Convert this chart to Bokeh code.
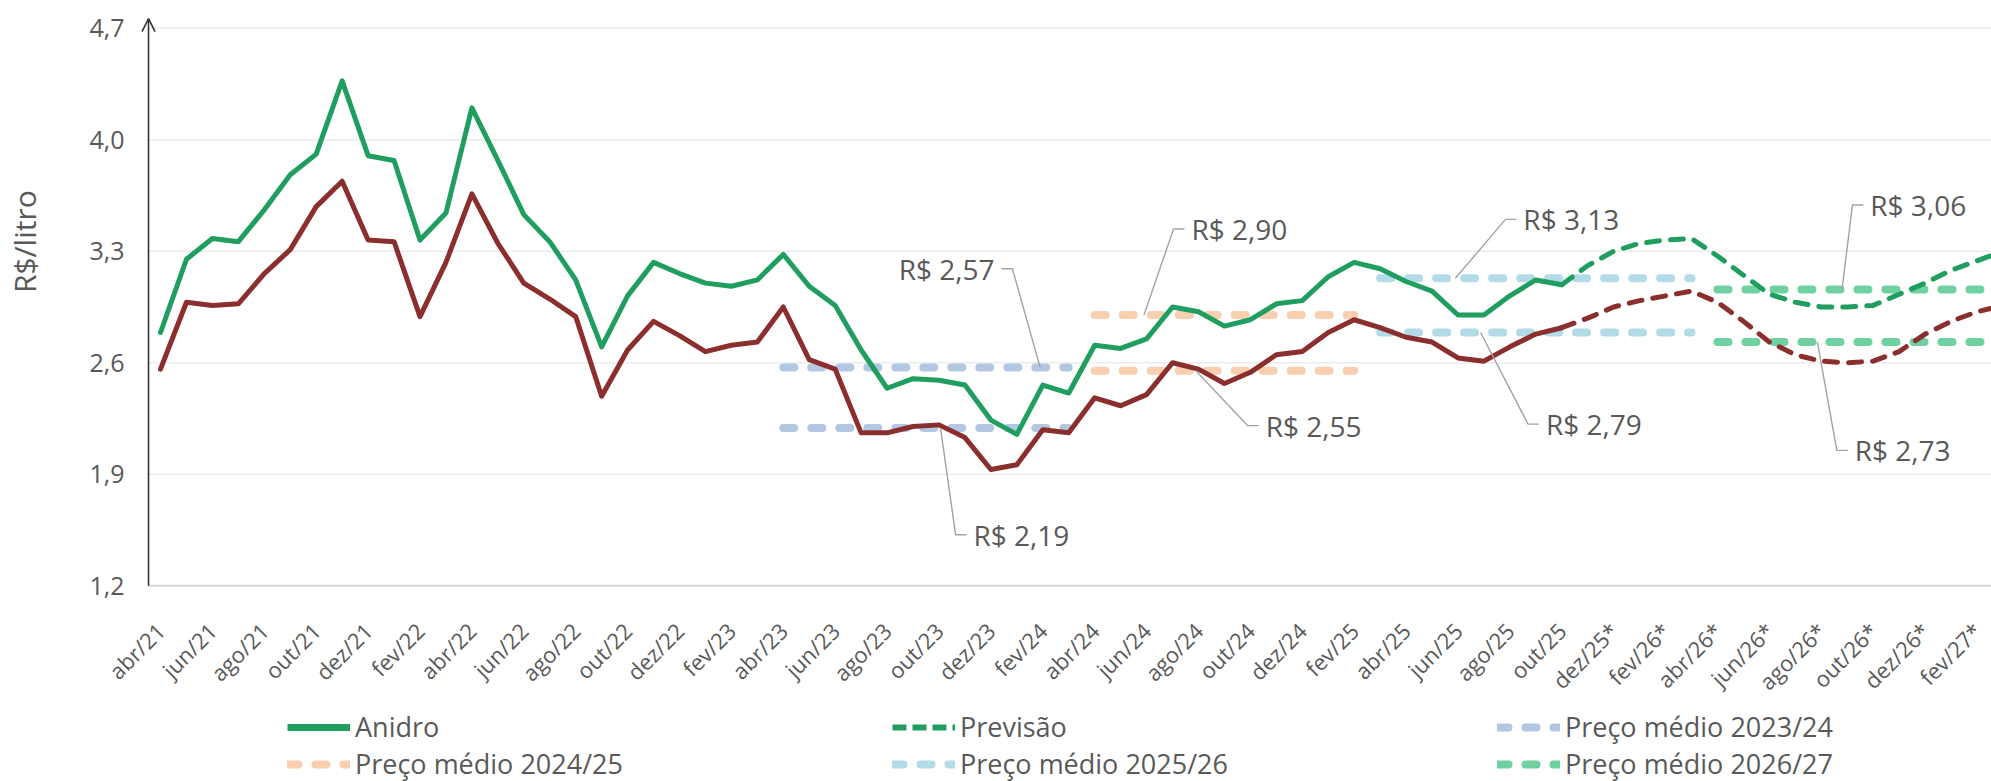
import math
from bokeh.plotting import figure
from bokeh.layouts import column
from bokeh.models import (FixedTicker, Range1d, Legend, LegendItem, Arrow, OpenHead,
                          ColumnDataSource)
from bokeh.core.properties import value
from bokeh.embed import file_html
from bokeh.resources import INLINE

# ---------------- data ----------------
mes = ["jan", "fev", "mar", "abr", "mai", "jun", "jul", "ago", "set", "out", "nov", "dez"]
months = [f"{mes[(3 + k) % 12]}/{21 + (3 + k) // 12}" for k in range(72)]  # abr/21 .. mar/27

tick_labels = ["abr/21", "jun/21", "ago/21", "out/21", "dez/21", "fev/22", "abr/22", "jun/22",
               "ago/22", "out/22", "dez/22", "fev/23", "abr/23", "jun/23", "ago/23", "out/23",
               "dez/23", "fev/24", "abr/24", "jun/24", "ago/24", "out/24", "dez/24", "fev/25",
               "abr/25", "jun/25", "ago/25", "out/25", "dez/25*", "fev/26*", "abr/26*", "jun/26*",
               "ago/26*", "out/26*", "dez/26*", "fev/27*"]

y_ticks = [1.2, 1.9, 2.6, 3.3, 4.0, 4.7]
y_tick_labels = ["1,2", "1,9", "2,6", "3,3", "4,0", "4,7"]
y_title = "R$/litro"

# Anidro (abr/21 .. out/25)
anidro = [2.79, 3.25, 3.38, 3.36, 3.56, 3.78, 3.91, 4.37, 3.90, 3.87, 3.37, 3.54, 4.20, 3.87,
          3.53, 3.36, 3.12, 2.70, 3.02, 3.23, 3.16, 3.10, 3.08, 3.12, 3.28, 3.08, 2.96, 2.68,
          2.44, 2.50, 2.49, 2.46, 2.24, 2.15, 2.46, 2.41, 2.71, 2.69, 2.75, 2.95, 2.92, 2.83,
          2.87, 2.97, 2.99, 3.14, 3.23, 3.19, 3.11, 3.05, 2.90, 2.90, 3.02, 3.12, 3.09]
# Previsão anidro (out/25 .. mar/27)
anidro_prev = [3.09, 3.21, 3.30, 3.35, 3.37, 3.38, 3.27, 3.15, 3.03, 2.98, 2.95, 2.95, 2.96,
               3.03, 3.10, 3.18, 3.24, 3.30]
# Hidratado (abr/21 .. out/25)
hidratado = [2.56, 2.98, 2.96, 2.97, 3.16, 3.31, 3.58, 3.74, 3.37, 3.36, 2.89, 3.23, 3.66, 3.35,
             3.10, 3.00, 2.89, 2.39, 2.68, 2.86, 2.77, 2.67, 2.71, 2.73, 2.95, 2.62, 2.56, 2.16,
             2.16, 2.20, 2.21, 2.13, 1.93, 1.96, 2.18, 2.16, 2.38, 2.33, 2.40, 2.60, 2.56, 2.47,
             2.54, 2.65, 2.67, 2.79, 2.87, 2.82, 2.76, 2.73, 2.63, 2.61, 2.70, 2.78, 2.82]
hidratado_prev = [2.82, 2.88, 2.95, 2.99, 3.02, 3.05, 2.98, 2.86, 2.73, 2.65, 2.61, 2.60, 2.61,
                  2.67, 2.78, 2.86, 2.92, 2.96]
prev_start = "out/25"

avg_labels = ["Preço médio 2023/24", "Preço médio 2024/25", "Preço médio 2025/26",
              "Preço médio 2026/27"]
avg_start = ["abr/23", "abr/24", "mar/25", "abr/26"]
avg_end = ["mar/24", "fev/25", "mar/26", "mar/27"]
avg_anidro = [2.57, 2.90, 3.13, 3.06]
avg_hidratado = [2.19, 2.55, 2.79, 2.73]
avg_colors = ["#b4c7e2", "#f9cfaf", "#b2dbe7", "#6fd0a0"]

# annotations: text, anchor on avg line (month idx, value), elbow (month idx, value), side
ann_text = ["R$ 2,57", "R$ 2,19", "R$ 2,90", "R$ 2,55", "R$ 3,13", "R$ 2,79", "R$ 3,06", "R$ 2,73"]
ann_anchor_m = [33.9, 30.06, 37.9, 39.9, 49.9, 50.87, 64.8, 63.85]
ann_anchor_v = [2.57, 2.19, 2.90, 2.55, 3.13, 2.79, 3.06, 2.73]
ann_elbow_m = [32.83, 30.64, 39.04, 41.9, 51.83, 52.7, 65.2, 64.6]
ann_elbow_v = [3.19, 1.52, 3.44, 2.205, 3.50, 2.215, 3.59, 2.05]
ann_side = ["left", "right", "right", "right", "right", "right", "right", "right"]

GREEN = "#1f9e60"
BROWN = "#8b2e2e"
TXT = "#595959"
FONT = "Open Sans"
AVG_DASH = "11 17"
PREV_DASH = "13 11"

# ---------------- main figure ----------------
x0, x1 = -6.166, 70.56      # plotting area (frame spans the whole figure width)
x_axis_pos = -0.462         # where the vertical axis sits
x_title_pos = -5.24         # where the vertical axis title sits
y0, y1 = 1.12, 4.78
p = figure(width=1991, height=709, output_backend="svg", toolbar_location=None,
           x_range=Range1d(x0, x1), y_range=Range1d(y0, y1), y_axis_location=None,
           min_border_left=0, min_border_right=0, min_border_top=15, min_border_bottom=108)
p.outline_line_color = None
p.background_fill_color = "white"

p.xaxis.ticker = FixedTicker(ticks=[months.index(t.rstrip("*")) for t in tick_labels])
p.xaxis.major_label_overrides = {months.index(t.rstrip("*")): t for t in tick_labels}
p.xaxis.major_label_orientation = 0.785398
p.xaxis.major_label_text_font = FONT
p.xaxis.major_label_text_font_size = "22px"
p.xaxis.major_label_text_color = TXT
p.xaxis.major_label_standoff = 22
p.xaxis.axis_line_color = None
p.xaxis.major_tick_line_color = None
p.xaxis.minor_tick_line_color = None

p.xgrid.grid_line_color = None
p.ygrid.grid_line_color = None

# horizontal grid lines (from the axis to the right) and the base line
n = len(y_ticks) - 1
p.segment(x0=[x_axis_pos] * n, y0=y_ticks[1:], x1=[x1] * n, y1=y_ticks[1:],
          line_color="#ececec", line_width=1.5)
p.segment(x0=[x_axis_pos], y0=[y_ticks[0]], x1=[x1], y1=[y_ticks[0]],
          line_color="#d6d6d6", line_width=2)

# vertical axis with arrow head, tick labels and title
p.add_layout(Arrow(end=OpenHead(size=13, line_color="#333333", line_width=1.6),
                   x_start=x_axis_pos, y_start=y_ticks[0], x_end=x_axis_pos, y_end=4.76,
                   line_color="#333333", line_width=1.6))
p.text(x=[x_axis_pos] * len(y_ticks), y=y_ticks, text=y_tick_labels, x_offset=-24,
       text_align="right", text_baseline="middle", text_font=value(FONT),
       text_font_size=value("25px"), text_color=TXT)
p.text(x=[x_title_pos], y=[3.36], text=[y_title], angle=math.pi / 2,
       text_align="center", text_baseline="middle", text_font=value(FONT),
       text_font_size=value("30px"), text_color=TXT)

# average price lines
for s, e, va, vh, c in zip(avg_start, avg_end, avg_anidro, avg_hidratado, avg_colors):
    si, ei = months.index(s), months.index(e)
    p.segment(x0=[si, si], y0=[va, vh], x1=[ei, ei], y1=[va, vh],
              line_color=c, line_width=8, line_dash=AVG_DASH, line_cap="round")

# series
xa = list(range(len(anidro)))
ps = months.index(prev_start)
xp = list(range(ps, ps + len(anidro_prev)))

p.line(xa, anidro, line_color=GREEN, line_width=5, line_join="round", line_cap="round")
p.line(xa, hidratado, line_color=BROWN, line_width=5, line_join="round", line_cap="round")
p.line(xp, anidro_prev, line_color=GREEN, line_width=5, line_dash=PREV_DASH,
       line_join="round", line_cap="round")
p.line(xp, hidratado_prev, line_color=BROWN, line_width=5, line_dash=PREV_DASH,
       line_join="round", line_cap="round")

# annotations
tick = 0.42
tick_m = [em - tick if sd == "left" else em + tick for em, sd in zip(ann_elbow_m, ann_side)]
lead_xs = [[am, em, tm] for am, em, tm in zip(ann_anchor_m, ann_elbow_m, tick_m)]
lead_ys = [[av, ev, ev] for av, ev in zip(ann_anchor_v, ann_elbow_v)]
p.multi_line(lead_xs, lead_ys, line_color="#a3a3a3", line_width=1.4)

ann_src = ColumnDataSource(dict(
    x=tick_m, y=ann_elbow_v, text=ann_text,
    align=["right" if sd == "left" else "left" for sd in ann_side],
    xoff=[-7 if sd == "left" else 7 for sd in ann_side]))
p.text(x="x", y="y", text="text", source=ann_src, text_align="align", x_offset="xoff",
       text_baseline="middle", text_font=value(FONT), text_font_size=value("28px"),
       text_color=TXT)

# ---------------- legend strip ----------------
lg = figure(width=1991, height=72, output_backend="svg", toolbar_location=None,
            x_range=Range1d(0, 1), y_range=Range1d(0, 1), x_axis_type=None, y_axis_type=None,
            min_border=0)
lg.outline_line_color = None
lg.xgrid.grid_line_color = None
lg.ygrid.grid_line_color = None

nan2 = [float("nan"), float("nan")]
k_anidro = lg.line(nan2, nan2, line_color=GREEN, line_width=7, line_cap="butt")
k_prev = lg.line(nan2, nan2, line_color=GREEN, line_width=6, line_dash="14 6")
k_avg = [lg.line(nan2, nan2, line_color=c, line_width=8, line_dash=AVG_DASH, line_cap="round")
         for c in avg_colors]

items = [LegendItem(label="Anidro", renderers=[k_anidro]),
         LegendItem(label="Previsão", renderers=[k_prev])]
items += [LegendItem(label=l, renderers=[r]) for l, r in zip(avg_labels, k_avg)]
legend = Legend(items=items, location=(287, -1), orientation="horizontal", ncols=3,
                glyph_width=63, glyph_height=20, label_standoff=5, label_width=537,
                label_height=34, spacing=0, padding=0, margin=0,
                background_fill_alpha=0, border_line_alpha=0,
                label_text_font=FONT, label_text_font_size="27px", label_text_color=TXT)
lg.add_layout(legend, "center")

open("out.html", "w").write(file_html(column(p, lg, spacing=0), INLINE))
